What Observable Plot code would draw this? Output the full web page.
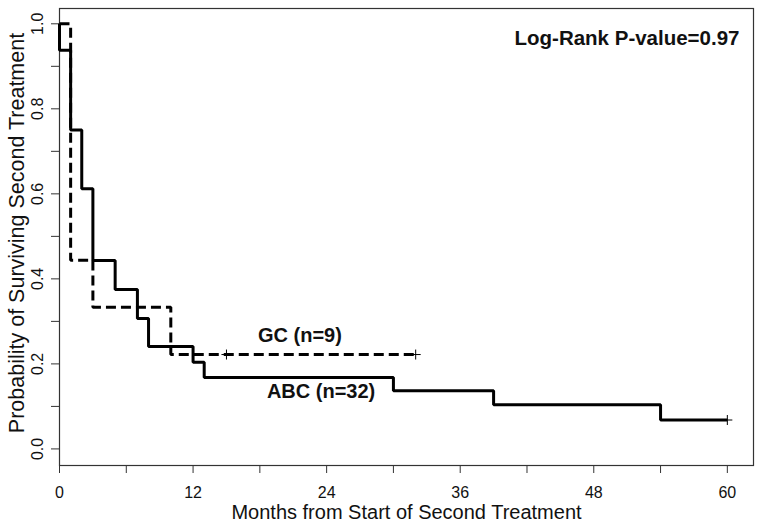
<!DOCTYPE html>
<html>
<head>
<meta charset="utf-8">
<script src="https://cdn.jsdelivr.net/npm/d3@7"></script>
<script src="https://cdn.jsdelivr.net/npm/@observablehq/plot@0.6"></script>
<style>
  html, body { margin: 0; padding: 0; background: #fff; }
  #chart svg { display: block; overflow: visible; }
</style>
</head>
<body>
<div id="chart"></div>
<script>
// ABC (n=32) Kaplan-Meier steps
const abcTime = [0, 0, 1, 2, 3, 5, 7, 8, 12, 13, 30, 39, 54, 60];
const abcSurv = [1.0, 0.938, 0.75, 0.612, 0.443, 0.375, 0.307, 0.241, 0.204, 0.168, 0.137, 0.104, 0.068, 0.068];
const abcCensorTime = [60];
const abcCensorSurv = [0.068];

// GC (n=9) Kaplan-Meier steps
const gcTime = [0, 1, 3, 10, 32];
const gcSurv = [1.0, 0.444, 0.333, 0.222, 0.222];
const gcCensorTime = [15, 32];
const gcCensorSurv = [0.222, 0.222];

const xTicks = [0, 6, 12, 18, 24, 30, 36, 42, 48, 54, 60];
const xTickLabels = [0, 12, 24, 36, 48, 60];
const yTicks = [0, 0.1, 0.2, 0.3, 0.4, 0.5, 0.6, 0.7, 0.8, 0.9, 1.0];
const yTickLabels = [0, 0.2, 0.4, 0.6, 0.8, 1.0];

const groupLabels = [
  {text: "GC (n=9)", x: 21.6, y: 0.267},
  {text: "ABC (n=32)", x: 23.5, y: 0.135}
];
const pvalueText = "Log-Rank P-value=0.97";
const xLabel = "Months from Start of Second Treatment";
const yLabel = "Probability of Surviving Second Treatment";

const abc = abcTime.map((t, i) => ({t, s: abcSurv[i]}));
const gc = gcTime.map((t, i) => ({t, s: gcSurv[i]}));
const censor = [
  ...abcCensorTime.map((t, i) => ({t, s: abcCensorSurv[i]})),
  ...gcCensorTime.map((t, i) => ({t, s: gcCensorSurv[i]}))
];

const plusSymbol = {
  draw(context, size) {
    const r = Math.sqrt(size / Math.PI);
    context.moveTo(-r, 0); context.lineTo(r, 0);
    context.moveTo(0, -r); context.lineTo(0, r);
  }
};

const FONT = "'Liberation Sans', Arial, Helvetica, sans-serif";
const axisColor = "#333";

const chart = Plot.plot({
  width: 762,
  height: 528,
  marginLeft: 59,
  marginRight: 9,
  marginTop: 8,
  marginBottom: 63,
  style: {fontFamily: FONT, background: "#fff", color: "#000"},
  x: {domain: [0, 62.35]},
  y: {domain: [-0.039, 1.036]},
  marks: [
    Plot.frame({stroke: axisColor, strokeWidth: 1.2}),
    Plot.axisX({ticks: xTicks, tickSize: 8, tickFormat: () => "", stroke: axisColor, strokeWidth: 1}),
    Plot.axisY({ticks: yTicks, tickSize: 8, tickFormat: () => "", stroke: axisColor, strokeWidth: 1}),
    Plot.text(xTickLabels, {x: d => d, text: d => String(d), frameAnchor: "bottom", dy: 27, lineAnchor: "middle", textAnchor: "middle", fontSize: 16, fill: "#111"}),
    Plot.text(yTickLabels, {y: d => d, text: d => d.toFixed(1), frameAnchor: "left", dx: -22, rotate: -90, lineAnchor: "middle", textAnchor: "middle", fontSize: 16, fill: "#111"}),
    Plot.text([xLabel], {text: d => d, frameAnchor: "bottom", dy: 47, lineAnchor: "middle", textAnchor: "middle", fontSize: 20, fill: "#111"}),
    Plot.text([yLabel], {text: d => d, frameAnchor: "left", dx: -42, dy: -4, rotate: -90, lineAnchor: "middle", textAnchor: "middle", fontSize: 21.5, fill: "#111"}),
    Plot.line(abc, {x: "t", y: "s", curve: "step-after", stroke: "#000", strokeWidth: 3, strokeLinejoin: "miter", strokeLinecap: "butt"}),
    Plot.line(gc, {x: "t", y: "s", curve: "step-after", stroke: "#000", strokeWidth: 3, strokeDasharray: "10,5", strokeLinejoin: "miter", strokeLinecap: "butt"}),
    Plot.dot(censor, {x: "t", y: "s", symbol: plusSymbol, r: 5, stroke: "#000", strokeWidth: 1, fill: "none"}),
    Plot.text(groupLabels, {x: "x", y: "y", text: "text", fontSize: 20, fontWeight: "bold", fill: "#111", lineAnchor: "middle"}),
    Plot.text([pvalueText], {text: d => d, frameAnchor: "top-right", dx: -14, dy: 30, lineAnchor: "middle", textAnchor: "end", fontSize: 20.5, fontWeight: "bold", fill: "#111"})
  ]
});

document.getElementById("chart").appendChild(chart);
</script>
</body>
</html>
